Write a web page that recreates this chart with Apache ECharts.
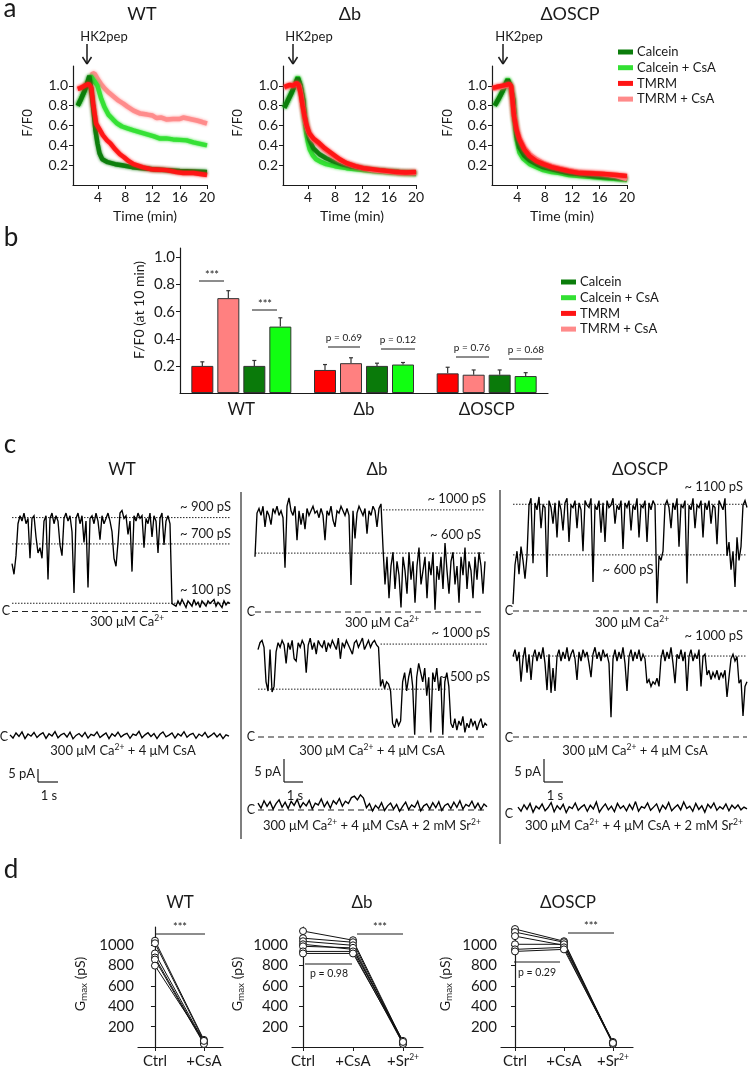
<!DOCTYPE html>
<html><head><meta charset="utf-8">
<script src="https://cdn.jsdelivr.net/npm/echarts@6/dist/echarts.min.js"></script>
<style>html,body{margin:0;padding:0;background:#fff}#c{width:748px;height:1070px}</style>
</head><body><div id="c"></div>
<script>
// ---------------- DATA ----------------
// panel a : [time (min), F/F0]
const timeTicks = [4, 8, 12, 16, 20];
const ratioTicks = [0.2, 0.4, 0.6, 0.8, 1.0];
const wtCalcein = [[1,0.80],[1.5,0.87],[2,0.95],[2.4,1.03],[2.7,1.10],[3.0,0.95],[3.3,0.76],[3.6,0.55],[3.9,0.42],[4.2,0.32],[4.6,0.26],[5.4,0.23],[6.5,0.21],[7.5,0.20],[9,0.18],[10.5,0.17],[12,0.16],[14,0.15],[16,0.14],[18,0.135],[20,0.13]];
const wtCalceinCsA = [[1,0.80],[1.5,0.87],[2,0.95],[2.5,1.04],[2.9,1.10],[3.4,1.05],[3.9,1.0],[4.4,0.88],[4.9,0.79],[5.5,0.71],[6.2,0.66],[6.8,0.62],[7.5,0.59],[8.3,0.57],[9.2,0.55],[10.2,0.53],[11.2,0.51],[12.2,0.49],[13,0.47],[14,0.47],[15,0.46],[16,0.455],[17,0.45],[18,0.43],[19,0.415],[20,0.40]];
const wtTmrm = [[1,0.97],[1.5,0.98],[2,1.0],[2.6,1.02],[3.0,0.98],[3.3,0.80],[3.7,0.62],[4.2,0.56],[4.7,0.50],[5.3,0.45],[5.8,0.42],[6.5,0.36],[7.2,0.31],[7.8,0.28],[8.5,0.24],[9.2,0.21],[10.5,0.18],[11.7,0.16],[13,0.155],[14.1,0.15],[15.5,0.13],[16.5,0.12],[18,0.12],[19,0.11],[20,0.10]];
const wtTmrmCsA = [[1,0.97],[2,1.0],[2.8,1.03],[3.2,1.13],[3.5,1.12],[4,1.06],[4.4,1.02],[5,0.97],[5.6,0.93],[6.3,0.89],[7,0.85],[7.7,0.82],[8.3,0.79],[9.2,0.75],[10.2,0.72],[11.2,0.71],[12,0.70],[12.6,0.675],[13.3,0.68],[14.1,0.66],[15,0.665],[16,0.665],[16.5,0.68],[17.5,0.665],[18.5,0.65],[19.3,0.635],[20,0.62]];
const dbCalcein = [[0.5,0.78],[1,0.85],[1.5,0.92],[2,1.0],[2.5,1.08],[2.9,1.0],[3.3,0.85],[3.5,0.70],[3.75,0.59],[4.2,0.46],[4.8,0.37],[5.7,0.31],[6.7,0.27],[7.7,0.24],[9,0.21],[10.2,0.19],[12,0.17],[13.7,0.15],[15.5,0.14],[17.5,0.13],[20,0.12]];
const dbCalceinCsA = [[0.5,0.78],[1,0.85],[1.5,0.92],[2,1.0],[2.5,1.09],[2.9,1.0],[3.3,0.86],[3.5,0.68],[3.75,0.52],[4,0.43],[4.25,0.36],[4.7,0.30],[5.2,0.26],[6,0.23],[6.7,0.21],[8,0.19],[9.7,0.17],[11.5,0.155],[13.7,0.14],[15.5,0.13],[17.5,0.12],[20,0.11]];
const dbTmrm = [[0.5,0.99],[0.9,1.0],[1.3,1.01],[1.8,1.0],[2.3,1.03],[2.6,1.01],[2.9,0.93],[3.2,0.80],[3.5,0.69],[3.8,0.60],[4.2,0.52],[4.8,0.47],[5.7,0.42],[6.5,0.37],[7.7,0.31],[8.7,0.26],[9.7,0.22],[11,0.19],[12.2,0.17],[13.5,0.16],[14.6,0.15],[16,0.14],[17.1,0.13],[18.5,0.125],[20,0.13]];
const dbTmrmCsA = [[0.5,0.98],[1.3,1.0],[2.3,1.02],[2.7,1.0],[3.0,0.90],[3.3,0.76],[3.6,0.64],[4,0.55],[4.6,0.47],[5.2,0.43],[5.7,0.40],[6.5,0.35],[7.7,0.29],[8.7,0.25],[9.7,0.22],[11,0.19],[12.2,0.17],[13.5,0.15],[15,0.14],[16.5,0.13],[18,0.12],[20,0.12]];
const oscpCalcein = [[0.7,0.80],[1.2,0.86],[1.8,0.94],[2.3,1.02],[2.6,1.06],[3,1.0],[3.4,0.86],[3.6,0.68],[3.9,0.50],[4.3,0.38],[5,0.30],[5.8,0.25],[6.8,0.21],[7.8,0.18],[9,0.16],[10.2,0.14],[11.5,0.12],[13.1,0.11],[15,0.09],[16.6,0.08],[18.5,0.07],[20,0.06]];
const oscpCalceinCsA = [[0.7,0.80],[1.2,0.86],[1.8,0.94],[2.3,1.02],[2.6,1.07],[3,1.0],[3.4,0.86],[3.6,0.65],[3.9,0.46],[4.3,0.33],[4.8,0.27],[5.8,0.21],[6.8,0.18],[7.8,0.15],[9,0.13],[10.2,0.12],[11.5,0.10],[13.1,0.09],[15,0.08],[16.6,0.07],[18.5,0.06],[20,0.05]];
const oscpTmrm = [[0.4,0.98],[1,0.99],[1.7,1.0],[2.4,1.01],[2.8,1.02],[3.1,1.0],[3.3,0.85],[3.5,0.70],[3.9,0.55],[4.3,0.46],[5,0.36],[5.8,0.29],[6.8,0.24],[7.8,0.21],[9,0.18],[10.2,0.16],[11.5,0.14],[13.1,0.12],[15,0.115],[16.6,0.11],[18.5,0.10],[20,0.09]];
const oscpTmrmCsA = [[0.4,0.97],[1.7,0.99],[2.8,1.01],[3.1,0.98],[3.3,0.84],[3.5,0.72],[3.9,0.57],[4.3,0.48],[5,0.38],[5.8,0.31],[6.8,0.26],[7.8,0.22],[9,0.19],[10.2,0.17],[11.5,0.15],[13.1,0.13],[15,0.12],[16.6,0.11],[18.5,0.09],[20,0.06]];

// panel b : F/F0 at 10 min, groups WT, Δb, ΔOSCP
const groups = ['WT', 'Δb', 'ΔOSCP'];
const barTmrm = [0.20, 0.17, 0.145];
const barTmrmErr = [0.03, 0.04, 0.045];
const barTmrmCsA = [0.70, 0.22, 0.135];
const barTmrmCsAErr = [0.055, 0.04, 0.035];
const barCalcein = [0.20, 0.20, 0.135];
const barCalceinErr = [0.04, 0.02, 0.035];
const barCalceinCsA = [0.49, 0.21, 0.125];
const barCalceinCsAErr = [0.065, 0.015, 0.025];

// panel c : single-channel current traces (pA), read sample by sample
const wtTrace1 = [18,14,21,33,36,34,37,33,35,20,35,36,28,22,24,20,34,36,12,35,37,33,36,34,25,21,35,37,34,36,30,7,35,37,33,36,26,34,9,35,36,33,37,34,27,36,33,35,37,34,30,20,17,26,37,38,35,36,29,34,15,36,34,37,35,36,24,35,33,37,28,36,34,22,35,37,25,34,36,33,3,3.5,2,4,2.5,4.5,3,1.5,4,3,2,4.5,2.5,3.5,1.5,4,3,2,4,3,2.5,4.5,2,3.5,3,1.5,4,2.5,3.5,3];
const wtTrace2 = [0.8,-0.4,1.5,0.2,1.9,-0.6,1.1,0.3,1.7,-0.2,0.9,1.6,-0.5,1.2,0.4,2,-0.3,0.8,1.4,0,1.8,-0.7,0.6,1.3,0.1,1.7,-0.4,1,0.5,1.9,-0.2,0.7,1.5,-0.6,1.2,0.3,1.8,0,0.9,1.4,-0.5,1.1,0.6,2.1,-0.3,0.8,1.6,0.2,1.3,-0.6,1,1.9,0.1,0.7,1.5,-0.4,1.2,0.4,2,-0.1,0.9,1.4,-0.5,1.1,0.3,1.7,-0.2,0.6,1.5,0,1.2,-0.6,0.8,0.3];
const dbTrace1 = [12,21.5,22.5,21,23,18.5,22,21,19,22.5,21.5,23,21,22,20.5,9.6,23,24.8,22,21,23,15.6,22,19,21.5,18,22.5,21,22,23,21.5,22,20.5,22.5,21,15.6,22,21,23,20,18.5,22,21.5,23,22,21,22.5,21,5.9,22,16,21.5,23,22,21,22.5,17,22,21,23,22,18.5,22.5,23.5,14,6,12,3,10,13,5,11,8,1,12,9,4,13,7,11,2,10,14,6,9,12,3,11,8,13,0.5,10,7,12,5,15,9,4,11,13,6,10,2,12,8,14,5,11,9,3,12,7,13,10,4,11];
const dbTrace2 = [19,20.5,21,19.5,12,10,19,9.8,11,18.5,20.5,19.5,21,20,16,20.5,19,21,17,16.5,20.5,19.5,21,20,14,20,21.5,19,20.5,18,21,20,19.5,21,18.5,20.5,19.5,21,20,19,21.5,17,20.5,19.5,21,20,19,18,20.5,21,19.5,20.5,21.5,19,20,21,19.5,20.5,21,20,19.5,11,12.5,10.5,12,11.5,10,3,2,4,2.5,3.5,12,14,10,13,15,11,0.5,13,16,14,12,15,9,13,1,14,12,15,10,13,0.5,12,14,11,3,2,4,1.5,3.5,2.5,4.5,1,3,2,4,2.5,3.5,1.5,3,4,2,3,2.5];
const dbTrace3 = [1.5,0.4,2,0.8,1.8,0.2,1.4,2.2,0.6,1.7,0.3,1.9,1,2.3,0.5,1.6,0.9,2.1,0.2,1.5,1.1,2.4,0.7,1.8,0.4,2,1.3,2.5,0.8,1.9,1.4,2.7,3,2.2,3.3,2.6,0.5,1.4,-0.2,1,0.3,1.6,-0.1,0.9,1.5,0.2,1.2,-0.3,0.8,1.7,0.1,1.1,0.6,1.9,-0.2,0.9,1.3,0.2,1.6,0.5,1.8,-0.1,1,1.4,0.3,1.7,0.6,2,0.2,1.2,0.8,1.9,0.4,1.5,0.1,1.3,0.7];
const oscpTrace1 = [1.5,10,13,8,14,11,7,12,23,24.5,10.4,23.5,22,24.8,18,23,22.5,7.4,24,22.5,19,23.5,16,24,22,17.5,23.5,24.5,15,23,22.5,24,18,23.5,22,13,24,23,22.5,24.5,6.3,23,22,24,17,23.5,15,24,22.5,23,24.5,19,23,22,24,13.5,23.5,22.5,24,17.5,23,22,24.5,16,23,22.5,24,15,23.5,22,24,23,1.7,12,11,13,23,24,22.5,18,23.5,22,24.5,14,23,22.5,24,6,23,22,24.5,18,23,22.5,24,16,23.5,22,24,19,23,22.5,14.5,24,23,22,24.5,12,15,9,13,5.2,16,11,14,23,24,22.5];
const oscpTrace2 = [17.5,19,16.5,18.5,12,17,19.5,14,18,12.4,17.5,19,16.5,18.5,17,19.5,16,10.2,18,9.6,15,10,17.5,19,16.5,18.5,17,19.5,16.5,18,19,17,12.4,18.5,16.5,19,17.5,18.5,16,13,18,19.5,17,18.5,16.5,19,17.5,18,16,4.3,17,19,16.5,18.5,17,19.5,16,10,17.5,19,16.5,18.5,17,19,16.5,18,17,11.7,12.5,11,12,11.5,12.8,11,17,19,16.5,18.5,17,19.5,16,11.7,18,17,19,16.5,18.5,10,17.5,19,16.5,18,17,19,11,17.5,18,13.5,14.5,12.5,14,13,14.5,12.4,14,13,14.5,8.7,13,17,18,16.5,17.5,11.7,12.5,4.6,11,12];
const oscpTrace3 = [1.5,0.6,2,1,2.3,0.4,1.7,1.1,2.2,0.7,1.4,2.5,0.5,1.8,1,2.1,0.3,1.6,1.2,2.4,0.8,1.5,2,0.6,1.9,1.1,2.6,0.4,1.4,2.2,0.9,1.7,0.5,2.3,1.2,1.8,0.7,2.1,1,2.7,0.6,1.6,1.3,2.4,0.8,1.5,2.2,0.5,1.9,1.1,2.5,0.7,1.4,2,0.9,2.6,1.2,1.7,0.6,2.3,1,1.8,0.4,2.1,1.3,2.4,0.8,1.6,1.1,2.2,0.7,1.9,1.2,2,0.9,1.5,1.1];
// conductance levels (pA) marked on traces
const wtLevels1 = [35.3, 25.4, 3.1];     // ~900, ~700, ~100 pS
const dbLevels1 = [22.2, 12.8];          // ~1000, ~600 pS
const dbLevels2 = [20.2, 10.4];          // ~1000, ~500 pS
const oscpLevels1 = [23.2, 12.2];        // ~1100, ~600 pS
const oscpLevels2 = [17.6];              // ~1000 pS

// panel d : Gmax (pS) per recording
const gTicks = [200, 400, 600, 800, 1000];
const wtCtrl = [1045, 1020, 920, 880, 860, 800];
const wtCsA = [70, 60, 50, 40, 30, 60];
const dbCtrl = [1140, 1070, 1040, 1010, 990, 940, 920];
const dbCsA = [1050, 1030, 1000, 960, 975, 940, 920];
const dbSr = [50, 40, 30, 60, 40, 30, 50];
const oscpCtrl = [1160, 1130, 1090, 1010, 960, 940];
const oscpCsA = [1040, 1030, 1000, 1010, 980, 960];
const oscpSr = [40, 30, 50, 40, 30, 40];

// ---------------- STYLE / LAYOUT ----------------
const FONT = 'Lato, "Open Sans", "DejaVu Sans", sans-serif';
const INK = '#1a1a1a';
const LINE_COL = {dk:'#0b7d0b', lime:'#33e033', red:'#ff1414', pink:'#ff8a8a'};
const BAR_COL = {red:'#ff0000', pink:'#ff8080', dk:'#0a7a0a', lime:'#11ff11'};
const RICH = {
  sup:{fontSize:8.5, lineHeight:8, verticalAlign:'top', fontFamily:FONT, fill:INK, color:INK},
  sub:{fontSize:10, lineHeight:9, verticalAlign:'bottom', fontFamily:FONT, fill:INK, color:INK}
};

const grids = [], xAxes = [], yAxes = [], series = [], G = [];

function txt(x, y, text, size, o) {
  o = o || {};
  G.push({type:'text', x, y, rotation:o.rot || 0, z:100, silent:true,
    style:{text, fontSize:size, fontFamily:FONT, fill:o.color || INK,
      align:o.align || 'center', textAlign:o.align || 'center',
      verticalAlign:'middle', textVerticalAlign:'middle',
      lineHeight:o.lh || Math.round(size * 1.25), rich:RICH}});
}
function seg(x1, y1, x2, y2, w, o) {
  o = o || {};
  G.push({type:'line', z:100, silent:true, shape:{x1, y1, x2, y2},
    style:{stroke:o.color || INK, lineWidth:w, lineDash:o.dash || null}});
}
function rect(x, y, w, h, color) {
  G.push({type:'rect', z:100, silent:true, shape:{x, y, width:w, height:h}, style:{fill:color}});
}

const axLine = {show:true, lineStyle:{color:INK, width:1.2}};
const lblBase = {color:INK, fontFamily:FONT};

// ---------- panel a ----------
function panelA(left, right, sets) {
  const gi = grids.length;
  grids.push({left, top:66, width:right - left, height:119, containLabel:false});
  xAxes.push({gridIndex:gi, type:'value', min:0.3, max:20, axisLine:axLine,
    axisTick:{show:true, customValues:timeTicks, length:4, lineStyle:{color:INK}},
    axisLabel:Object.assign({customValues:timeTicks, fontSize:14, margin:5}, lblBase),
    splitLine:{show:false}});
  yAxes.push({gridIndex:gi, type:'value', min:0, max:1.2, axisLine:axLine,
    axisTick:{show:true, customValues:ratioTicks, length:4, lineStyle:{color:INK}},
    axisLabel:Object.assign({customValues:ratioTicks, fontSize:14, margin:5, formatter:v => v.toFixed(1)}, lblBase),
    splitLine:{show:false}});
  sets.forEach(([data, col]) => {
    series.push({type:'line', xAxisIndex:gi, yAxisIndex:gi, data, symbol:'none', silent:true,
      lineStyle:{color:col, width:4.5, shadowColor:col, shadowBlur:3, opacity:0.95}});
  });
}
panelA(73, 207, [[wtTmrmCsA, LINE_COL.pink], [wtCalceinCsA, LINE_COL.lime], [wtCalcein, LINE_COL.dk], [wtTmrm, LINE_COL.red]]);
panelA(283, 416, [[dbCalceinCsA, LINE_COL.lime], [dbCalcein, LINE_COL.dk], [dbTmrmCsA, LINE_COL.pink], [dbTmrm, LINE_COL.red]]);
panelA(492, 627, [[oscpCalceinCsA, LINE_COL.lime], [oscpCalcein, LINE_COL.dk], [oscpTmrmCsA, LINE_COL.pink], [oscpTmrm, LINE_COL.red]]);

// ---------- panel b ----------
{
  const gi = grids.length;
  grids.push({left:180, top:248, width:368, height:145, containLabel:false});
  xAxes.push({gridIndex:gi, type:'category', data:groups, axisLine:axLine, axisTick:{show:false},
    axisLabel:Object.assign({fontSize:17, margin:8}, lblBase)});
  yAxes.push({gridIndex:gi, type:'value', min:0, max:1.07, axisLine:axLine,
    axisTick:{show:true, customValues:ratioTicks, length:4, lineStyle:{color:INK}},
    axisLabel:Object.assign({customValues:ratioTicks, fontSize:15, margin:5, formatter:v => v.toFixed(1)}, lblBase),
    splitLine:{show:false}});
  const bars = [[barTmrm, barTmrmErr, BAR_COL.red], [barTmrmCsA, barTmrmCsAErr, BAR_COL.pink],
                [barCalcein, barCalceinErr, BAR_COL.dk], [barCalceinCsA, barCalceinCsAErr, BAR_COL.lime]];
  const BW = 22, GAP = 4;
  bars.forEach(([vals, errs, col], k) => {
    series.push({type:'bar', xAxisIndex:gi, yAxisIndex:gi, data:vals, barWidth:BW, barGap:(GAP / BW * 100) + '%',
      itemStyle:{color:col, borderColor:'#333', borderWidth:1}, silent:true, z:2});
    const off = (k - 1.5) * (BW + GAP);
    series.push({type:'custom', xAxisIndex:gi, yAxisIndex:gi, silent:true, z:1,
      data:vals.map((v, i) => [i, v, v + errs[i]]),
      renderItem:(params, api) => {
        const p0 = api.coord([api.value(0), api.value(1)]);
        const p1 = api.coord([api.value(0), api.value(2)]);
        const x = p0[0] + off;
        return {type:'group', children:[
          {type:'line', shape:{x1:x, y1:p0[1], x2:x, y2:p1[1]}, style:{stroke:'#333', lineWidth:1.2}},
          {type:'line', shape:{x1:x - 2, y1:p1[1], x2:x + 2, y2:p1[1]}, style:{stroke:'#333', lineWidth:1.2}}]};
      }});
  });
}

// ---------- panel c ----------
function traceGrid(data, x0, x1, yC, s, top, bottom) {
  const gi = grids.length;
  grids.push({left:x0, top, width:x1 - x0, height:bottom - top, containLabel:false});
  xAxes.push({gridIndex:gi, type:'value', min:0, max:data.length - 1, show:false});
  yAxes.push({gridIndex:gi, type:'value', min:(yC - bottom) / s, max:(yC - top) / s, show:false});
  series.push({type:'line', xAxisIndex:gi, yAxisIndex:gi, data:data.map((v, i) => [i, v]), symbol:'none',
    silent:true, clip:false, z:3, lineStyle:{color:'#000', width:1.35, join:'miter', miterLimit:3}});
  return gi;
}
function level(gi, a, b, v, dashed) {
  series.push({type:'line', xAxisIndex:gi, yAxisIndex:gi, data:[[a, v], [b, v]], symbol:'none', silent:true,
    clip:false, z:2, lineStyle:{color:'#222', width:dashed ? 1.2 : 1, type:dashed ? [6, 4] : [1.5, 1.5]}});
}
const PX_WT = 13.3 / 5, PX_MUT = 23 / 5; // px per pA (scale bars)
let g;
g = traceGrid(wtTrace1, 12, 230, 611.5, PX_WT, 490, 625);
wtLevels1.forEach(v => level(g, 0, wtTrace1.length - 1, v, false));
level(g, 0, wtTrace1.length - 1, 0, true);
g = traceGrid(wtTrace2, 10, 229, 737, PX_WT, 715, 745);

g = traceGrid(dbTrace1, 255, 485, 612, PX_MUT, 490, 620);
level(g, 64, dbTrace1.length - 1, dbLevels1[0], false);
level(g, 0, dbTrace1.length - 1, dbLevels1[1], false);
level(g, 0, dbTrace1.length - 1, 0, true);
g = traceGrid(dbTrace2, 258, 487, 737, PX_MUT, 625, 745);
level(g, 61, dbTrace2.length - 1, dbLevels2[0], false);
level(g, 0, 94, dbLevels2[1], false);
level(g, 0, dbTrace2.length - 1, 0, true);
g = traceGrid(dbTrace3, 258, 487, 810, PX_MUT, 790, 818);
level(g, 0, dbTrace3.length - 1, 0, true);

g = traceGrid(oscpTrace1, 513, 747, 611, PX_MUT, 480, 620);
oscpLevels1.forEach(v => level(g, 0, oscpTrace1.length - 1, v, false));
level(g, 0, oscpTrace1.length - 1, 0, true);
g = traceGrid(oscpTrace2, 513, 747, 737, PX_MUT, 625, 745);
level(g, 0, oscpTrace2.length - 1, oscpLevels2[0], false);
level(g, 0, oscpTrace2.length - 1, 0, true);
g = traceGrid(oscpTrace3, 518, 747, 814, PX_MUT, 795, 822);

// ---------- panel d ----------
function panelD(left, right, xmin, xmax, names, cols) {
  const gi = grids.length;
  const idx = names.map((n, i) => i);
  grids.push({left, top:927, width:right - left, height:123, containLabel:false});
  xAxes.push({gridIndex:gi, type:'value', min:xmin, max:xmax, axisLine:axLine,
    axisTick:{show:true, customValues:idx, length:4, lineStyle:{color:INK}},
    axisLabel:Object.assign({customValues:idx, fontSize:15, margin:6, lineHeight:17, formatter:v => names[Math.round(v)], rich:RICH}, lblBase),
    splitLine:{show:false}});
  yAxes.push({gridIndex:gi, type:'value', min:0, max:1180, axisLine:axLine,
    axisTick:{show:true, customValues:gTicks, length:4, lineStyle:{color:INK}},
    axisLabel:Object.assign({customValues:gTicks, fontSize:15, margin:4, formatter:v => String(v)}, lblBase),
    splitLine:{show:false}});
  cols[0].forEach((_, r) => {
    series.push({type:'line', xAxisIndex:gi, yAxisIndex:gi, silent:true, clip:false,
      data:cols.map((c, j) => [j, c[r]]), symbol:'circle', symbolSize:7,
      itemStyle:{color:'#fff', borderColor:'#111', borderWidth:1},
      lineStyle:{color:'#111', width:1}});
  });
}
panelD(138, 223, -0.347, 1.39, ['Ctrl', '+CsA'], [wtCtrl, wtCsA]);
panelD(292, 423, -0.22, 2.4, ['Ctrl', '+CsA', '+Sr{sup|2+}'], [dbCtrl, dbCsA, dbSr]);
panelD(501, 633, -0.286, 2.41, ['Ctrl', '+CsA', '+Sr{sup|2+}'], [oscpCtrl, oscpCsA, oscpSr]);

// ---------------- ANNOTATIONS ----------------
// panel letters
txt(10, 9, 'a', 26); txt(11, 238, 'b', 26); txt(10, 445, 'c', 26); txt(11, 870, 'd', 26);
// panel a
txt(142, 14, 'WT', 18); txt(350, 14, 'Δb', 18); txt(570, 14, 'ΔOSCP', 18);
[[104, 87], [309, 293], [519, 503]].forEach(([tx, ax]) => {
  txt(tx, 37, 'HK2pep', 13);
  seg(ax, 44, ax, 64, 1.5);
  seg(ax - 4.5, 57, ax, 64, 1.5); seg(ax + 4.5, 57, ax, 64, 1.5);
});
[28, 238, 448].forEach(x => txt(x, 123, 'F/F0', 13, {rot:Math.PI / 2}));
[145, 352, 562].forEach(x => txt(x, 216, 'Time (min)', 14));
const legendItems = [['Calcein', LINE_COL.dk], ['Calcein + CsA', LINE_COL.lime], ['TMRM', LINE_COL.red], ['TMRM + CsA', LINE_COL.pink]];
legendItems.forEach(([n, c], i) => { const y = 52 + i * 15.7; rect(618, y - 2.5, 15, 5, c); txt(637, y, n, 13, {align:'left'}); });
// panel b
txt(139, 310, 'F/F0 (at 10 min)', 14, {rot:Math.PI / 2});
legendItems.forEach(([n, c], i) => { const y = 282 + i * 15.7; rect(561, y - 2.5, 15, 5, c); txt(580, y, n, 13, {align:'left'}); });
seg(199, 281, 224, 281, 1); txt(212, 275, '***', 11);
seg(252, 310, 277, 310, 1); txt(265, 304, '***', 11);
seg(328, 347, 360, 347, 1); txt(344, 338, 'p = 0.69', 10);
seg(381, 349, 415, 349, 1); txt(398, 340, 'p = 0.12', 10);
seg(456, 357, 489, 357, 1); txt(472, 348, 'p = 0.76', 10);
seg(509, 359, 542, 359, 1); txt(526, 350, 'p = 0.68', 10);
// panel c
txt(122, 470, 'WT', 17); txt(377, 470, 'Δb', 17); txt(640, 470, 'ΔOSCP', 17);
seg(241, 492, 241, 839, 1.5, {color:'#555'}); seg(500, 490, 500, 844, 1.5, {color:'#555'});
const CA = '300 μM Ca{sup|2+}', CSA = CA + ' + 4 μM CsA', SR = CSA + ' + 2 mM Sr{sup|2+}';
const TS = 13;
// WT
txt(231, 507, '~ 900 pS', TS, {align:'right'}); txt(231, 534, '~ 700 pS', TS, {align:'right'}); txt(231, 590, '~ 100 pS', TS, {align:'right'});
txt(6, 611, 'C', 12.5); txt(127, 622, CA, TS, {lh:16});
txt(4, 737, 'C', 12.5); txt(123, 751, CSA, TS, {lh:16});
txt(35, 774, '5 pA', 13, {align:'right'}); txt(49, 796, '1 s', 13);
seg(38, 769, 38, 782, 1.2); seg(38, 782, 58, 782, 1.2);
// Δb
txt(486, 499, '~ 1000 pS', TS, {align:'right'}); txt(481, 535, '~ 600 pS', TS, {align:'right'});
txt(251, 612, 'C', 12.5); txt(382, 623, CA, TS, {lh:16});
txt(490, 633, '~ 1000 pS', TS, {align:'right'}); txt(490, 677, '~ 500 pS', TS, {align:'right'});
txt(251, 737, 'C', 12.5); txt(372, 751, CSA, TS, {lh:16});
txt(281, 772, '5 pA', 13, {align:'right'}); txt(295, 796, '1 s', 13);
seg(284, 759, 284, 782, 1.2); seg(284, 782, 303, 782, 1.2);
txt(251, 810, 'C', 12.5); txt(372, 826, SR, TS, {lh:16});
// ΔOSCP
txt(743, 487, '~ 1100 pS', TS, {align:'right'}); txt(628, 570, '~ 600 pS', TS);
txt(509, 611, 'C', 12.5); txt(632, 623, CA, TS, {lh:16});
txt(743, 636, '~ 1000 pS', TS, {align:'right'});
txt(509, 738, 'C', 12.5); txt(635, 751, CSA, TS, {lh:16});
txt(541, 772, '5 pA', 13, {align:'right'}); txt(555, 796, '1 s', 13);
seg(544, 759, 544, 782, 1.2); seg(544, 782, 563, 782, 1.2);
txt(509, 814, 'C', 12.5); txt(634, 826, SR, TS, {lh:16});
// panel d
txt(180, 903, 'WT', 17); txt(362, 903, 'Δb', 17); txt(568, 903, 'ΔOSCP', 17);
[80, 237, 445].forEach(x => txt(x, 984, 'G{sub|max} (pS)', 14, {rot:Math.PI / 2, lh:17}));
seg(155, 934, 205, 934, 1); txt(180, 927, '***', 11);
seg(357, 934, 403, 934, 1); txt(380, 927, '***', 11);
seg(305, 964, 352, 964, 1); txt(329, 974, 'p = 0.98', 10.5);
seg(568, 933, 614, 933, 1); txt(591, 926, '***', 11);
seg(514, 962, 560, 962, 1); txt(537, 973, 'p = 0.29', 10.5);

// ---------------- CHART ----------------
const chart = echarts.init(document.getElementById('c'), null, {renderer:'canvas'});
chart.setOption({
  animation:false,
  backgroundColor:'#fff',
  textStyle:{fontFamily:FONT},
  grid:grids, xAxis:xAxes, yAxis:yAxes, series,
  graphic:{elements:G}
});
</script></body></html>
